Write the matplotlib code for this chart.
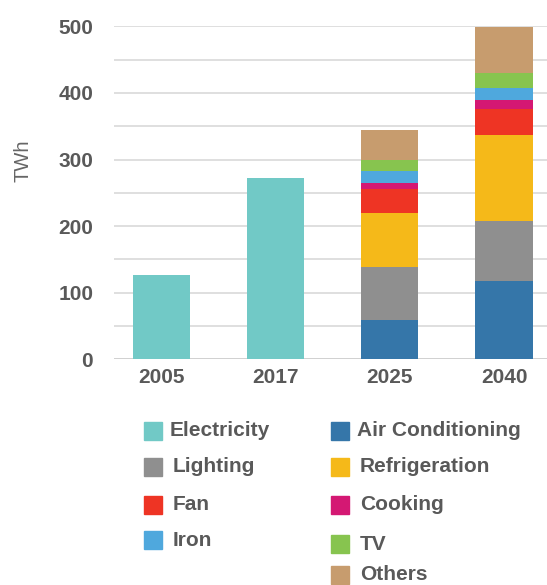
import matplotlib.pyplot as plt
from matplotlib.patches import Rectangle

# Electricity demand by year, TWh
years = ["2005", "2017", "2025", "2040"]
electricity = [127, 272, 0, 0]

# End-use breakdown for the projected years (2025, 2040)
end_uses = ["Air Conditioning", "Lighting", "Refrigeration", "Fan",
            "Cooking", "Iron", "TV", "Others"]
air_conditioning = [0, 0, 59, 117]
lighting = [0, 0, 80, 91]
refrigeration = [0, 0, 81, 129]
fan = [0, 0, 35, 39]
cooking = [0, 0, 10, 14]
iron = [0, 0, 18, 18]
tv = [0, 0, 17, 22]
others = [0, 0, 44, 69]

colors = {
    "Electricity": "#71C9C6",
    "Air Conditioning": "#3576A9",
    "Lighting": "#8F8F8F",
    "Refrigeration": "#F5B919",
    "Fan": "#EE3424",
    "Cooking": "#D41873",
    "Iron": "#4FA8DD",
    "TV": "#87C44F",
    "Others": "#C79C6E",
}
text_color = "#595959"

plt.rcParams['font.family'] = ['Liberation Sans', 'DejaVu Sans']

fig = plt.figure(figsize=(5.47, 5.85), dpi=100)
ax = fig.add_axes([0.2084, 0.3858, 0.7916, 0.5692])

x = range(len(years))
ax.bar(x, electricity, width=0.5, color=colors["Electricity"], zorder=3)

series = [air_conditioning, lighting, refrigeration, fan, cooking, iron, tv, others]
bottom = [0] * len(years)
for name, vals in zip(end_uses, series):
    ax.bar(x, vals, width=0.5, bottom=bottom, color=colors[name], zorder=3)
    bottom = [b + v for b, v in zip(bottom, vals)]

ax.set_xlim(-0.42, 3.377)
ax.set_ylim(0, 500)
ax.set_yticks(range(0, 501, 100))
ax.set_yticks(range(0, 501, 50), minor=True)
ax.grid(axis='y', which='both', color='#D9D9D9', linewidth=1.2, zorder=0)
ax.set_xticks(list(x))
ax.set_xticklabels(years)
ax.tick_params(axis='both', which='both', length=0)
ax.tick_params(axis='y', pad=15)
ax.tick_params(axis='x', pad=6)
for lbl in ax.get_xticklabels() + ax.get_yticklabels():
    lbl.set_fontsize(15)
    lbl.set_fontweight('bold')
    lbl.set_color(text_color)
for s in ax.spines.values():
    s.set_visible(False)
ax.axhline(0, color='#D0D0D0', linewidth=2, zorder=2)
ax.set_clip_on(False)

fig.text(23 / 547, 1 - 161 / 585, "TWh", rotation=90, fontsize=14.5,
         color="#666666", ha='center', va='center')

# Legend laid out in two columns below the axes
W, H = 547.0, 585.0
legend_items = [
    ("Electricity", 144, 170, 431),
    ("Lighting", 144, 173, 467),
    ("Fan", 144, 173, 505),
    ("Iron", 144, 173, 540),
    ("Air Conditioning", 331, 357, 431),
    ("Refrigeration", 331, 360, 467),
    ("Cooking", 331, 360, 505),
    ("TV", 331, 360, 544),
    ("Others", 331, 360, 575),
]
for name, sx, tx, cy in legend_items:
    fig.add_artist(Rectangle((sx / W, 1 - (cy + 9) / H), 18 / W, 18 / H,
                             transform=fig.transFigure, color=colors[name]))
    fig.text(tx / W, 1 - cy / H, name, fontsize=15, fontweight='bold',
             color=text_color, ha='left', va='center')

fig.savefig("out.png", dpi=100)
